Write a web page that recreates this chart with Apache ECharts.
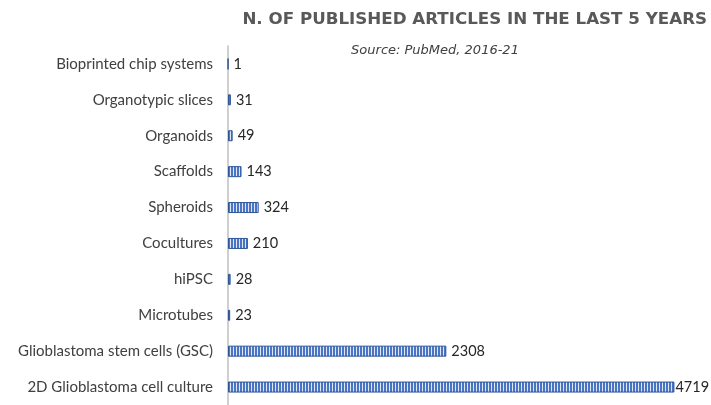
<!DOCTYPE html>
<html><head><meta charset="utf-8">
<script src="https://cdn.jsdelivr.net/npm/echarts@6/dist/echarts.min.js"></script>
<style>html,body{margin:0;padding:0;background:#fff}#c{width:711px;height:405px}</style>
</head><body><div id="c"></div>
<script>
const categories = ["2D Glioblastoma cell culture","Glioblastoma stem cells (GSC)","Microtubes","hiPSC","Cocultures","Spheroids","Scaffolds","Organoids","Organotypic slices","Bioprinted chip systems"];
const values = [4719, 2308, 23, 28, 210, 324, 143, 49, 31, 1];
const titleText = "N. OF PUBLISHED ARTICLES IN THE LAST 5 YEARS";
const subtitleText = "Source: PubMed, 2016-21";

const cv = document.createElement('canvas');
cv.width = 3; cv.height = 4;
const cx = cv.getContext('2d');
cx.fillStyle = '#4a74c4'; cx.fillRect(0,0,3,4);
cx.fillStyle = '#dfe6f4'; cx.fillRect(2,0,1,4);

const maxVal = Math.max(...values);
const seriesData = values.map(v => v === maxVal ? {value: v, label: {distance: 1}} : v);

const chart = echarts.init(document.getElementById('c'), null, {renderer:'canvas'});
chart.setOption({
  animation:false,
  title:[{text:titleText, right:-1, top:6, textStyle:{fontFamily:'DejaVu Sans', fontWeight:'bold', fontSize:16.7, color:'#595959'}},
         {text:subtitleText, left:430, top:39, textAlign:'center', textStyle:{fontFamily:'DejaVu Sans', fontStyle:'italic', fontWeight:'normal', fontSize:13, color:'#404040'}}],
  grid:{left:228, top:46, width:473, height:366, containLabel:false},
  xAxis:{type:'value', min:0, max:5000, show:false},
  yAxis:{type:'category', data:categories, axisTick:{show:false},
    axisLine:{show:true, lineStyle:{color:'#bfbfbf', width:1.5}},
    axisLabel:{margin:15, fontFamily:'Lato', fontSize:15, color:'#404040'}},
  series:[{type:'bar', data:seriesData, barWidth:11,
    itemStyle:{color:{image:cv, repeat:'repeat'}, borderColor:'#2f5597', borderWidth:1},
    label:{show:true, position:'right', distance:5, fontFamily:'Lato', fontSize:14.5, color:'#262626'}}]
});
</script></body></html>
